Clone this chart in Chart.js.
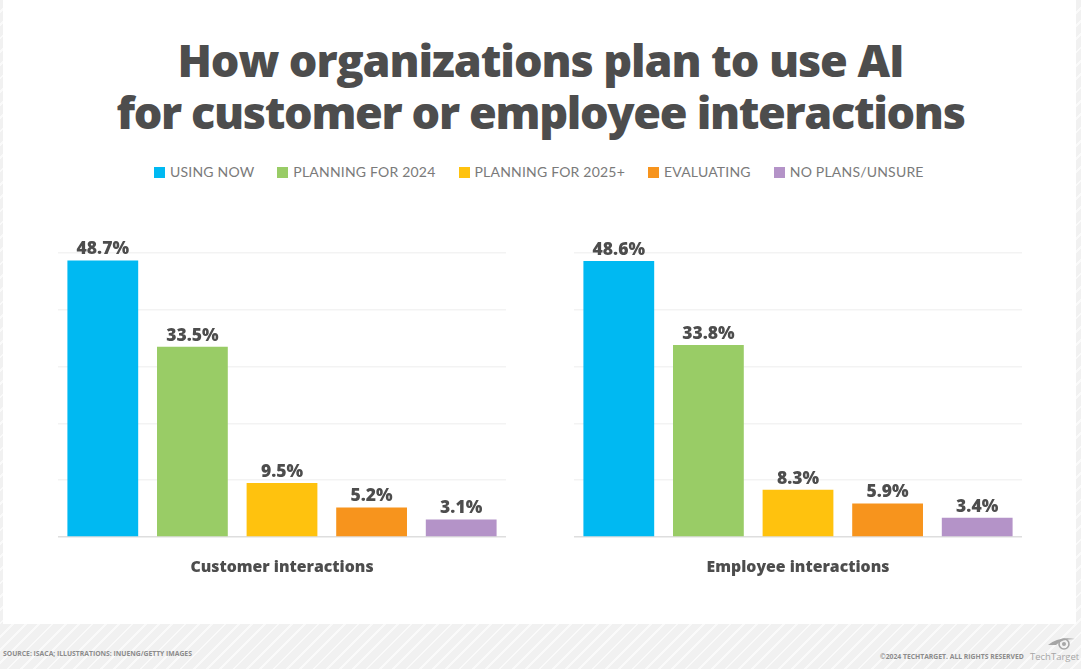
<!DOCTYPE html>
<html>
<head>
<meta charset="utf-8">
<script src="https://cdn.jsdelivr.net/npm/chart.js@4"></script>
<style>
    html, body { margin: 0; padding: 0; }
    body {
        width: 1081px; height: 669px; position: relative; overflow: hidden;
        background: repeating-linear-gradient(135deg, #f1f1f1 0 7.5px, #fafafa 7.5px 9.4px);
    }
    #panel { position: absolute; left: 3px; top: 0; width: 1073px; height: 624px; background: #fff; }
    #title {
        position: absolute; left: 0; width: 1081px; top: 34px; text-align: center;
        font: 800 45px/52px "Open Sans", sans-serif; color: #4d4d4d; letter-spacing: -1.1px;
    }
    #title span { letter-spacing: -1.35px; }
    #legend {
        position: absolute; left: 154px; top: 162px; height: 20px; display: flex;
        font: 400 14px/20px Lato, sans-serif; color: #7a7a7a; letter-spacing: 0.2px; white-space: nowrap;
    }
    #legend span.item { display: flex; align-items: center; margin-right: 23px; }
    #legend i { width: 11px; height: 11px; margin-right: 5px; display: block; }
    canvas { position: absolute; top: 230px; }
    .foot { position: absolute; font: 700 6.8px/8px "Open Sans", sans-serif; color: #8c8c8c; white-space: nowrap; }
    #brand { position: absolute; left: 1030px; top: 650px; font: 400 9.5px/13px "Open Sans", sans-serif; color: #a6a6a6; }
</style>
</head>
<body>
<div id="panel"></div>
<div id="title">How organizations plan to use AI<br><span>for customer or employee interactions</span></div>
<div id="legend"></div>
<canvas id="chart1" width="448" height="360" style="left:58px;width:448px;height:360px"></canvas>
<canvas id="chart2" width="448" height="360" style="left:574px;width:448px;height:360px"></canvas>
<div class="foot" style="left:3px;top:650px">SOURCE: ISACA; ILLUSTRATIONS: INUENG/GETTY IMAGES</div>
<div class="foot" style="left:880px;top:653px">©2024 TECHTARGET. ALL RIGHTS RESERVED</div>
<svg style="position:absolute;left:1047px;top:636px" width="32" height="16" viewBox="0 0 32 16">
    <path d="M1 9 Q12 0 28 3 Q14 3 9 9 Z" fill="#a6a6a6"/>
    <circle cx="17" cy="8" r="5" fill="none" stroke="#a6a6a6" stroke-width="1.6"/>
    <circle cx="17" cy="8" r="2" fill="#a6a6a6"/>
</svg>
<div id="brand">TechTarget</div>

<script>
const categories = ['USING NOW', 'PLANNING FOR 2024', 'PLANNING FOR 2025+', 'EVALUATING', 'NO PLANS/UNSURE'];
const customerValues = [48.7, 33.5, 9.5, 5.2, 3.1];
const employeeValues = [48.6, 33.8, 8.3, 5.9, 3.4];
const barColors = ['#00b9f2', '#99cc66', '#ffc20e', '#f7941d', '#b493c8'];

// legend is plain html, same order as the bars
const legendBox = document.getElementById('legend');
categories.forEach((name, idx) => {
    const item = document.createElement('span');
    item.className = 'item';
    item.innerHTML = '<i style="background:' + barColors[idx] + '"></i>' + name;
    legendBox.appendChild(item);
});

// draws the value above each bar
const valueLabels = {
    id: 'valueLabels',
    afterDatasetsDraw(chart) {
        const c = chart.ctx;
        const bars = chart.getDatasetMeta(0).data;
        c.save();
        c.font = '800 17.5px "Open Sans", sans-serif';
        c.fillStyle = '#4d4d4d';
        c.textAlign = 'center';
        c.textBaseline = 'alphabetic';
        bars.forEach((bar, idx) => {
            c.fillText(chart.data.datasets[0].data[idx].toFixed(1) + '%', bar.x, bar.y - 6);
        });
        c.restore();
    }
};

const makeChart = (id, label, values) => new Chart(document.getElementById(id), {
    type: 'bar',
    plugins: [valueLabels],
    data: {
        labels: categories,
        datasets: [{
            label: label,
            data: values,
            backgroundColor: barColors,
            barPercentage: 0.79,
            categoryPercentage: 1
        }]
    },
    options: {
        responsive: false,
        animation: false,
        devicePixelRatio: 1,
        layout: { padding: { top: 23, left: 0, right: 0, bottom: 0 } },
        plugins: { legend: { display: false }, tooltip: { enabled: false } },
        scales: {
            x: {
                afterFit: (scale) => { scale.height = 53; },
                grid: { display: false },
                border: { display: false },
                ticks: { display: false },
                title: {
                    display: true,
                    text: label,
                    color: '#4d4d4d',
                    font: { family: '"Open Sans", sans-serif', size: 15.8, weight: '800' },
                    padding: { top: 18, bottom: 13 }
                }
            },
            y: {
                min: 0,
                max: 50,
                afterFit: (scale) => { scale.width = 0; },
                ticks: { display: false, stepSize: 10 },
                border: { display: false },
                grid: {
                    drawTicks: false,
                    lineWidth: 1.5,
                    color: (ctx) => ctx.tick.value === 0 ? '#dedede' : '#f3f3f3'
                }
            }
        }
    }
});

makeChart('chart1', 'Customer interactions', customerValues);
makeChart('chart2', 'Employee interactions', employeeValues);
</script>
</body>
</html>
